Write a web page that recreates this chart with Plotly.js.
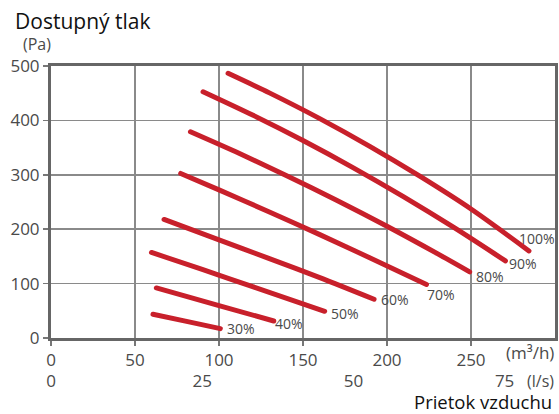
<!DOCTYPE html>
<html>
<head>
<meta charset="utf-8">
<script src="https://cdn.plot.ly/plotly-3.0.1.min.js"></script>
<style>
html,body{margin:0;padding:0;background:#fff;}
#chart{width:559px;height:414px;}
.scatterlayer .js-line{stroke-linecap:round !important;stroke-linejoin:round !important;}
</style>
</head>
<body>
<div id="chart"></div>
<script>
// ---- data ----
const speedLabels = ['30%', '40%', '50%', '60%', '70%', '80%', '90%', '100%'];
const flow30 = [60.7, 80, 100.8];
const p30 = [43.6, 31, 17.3];
const flow40 = [62.7, 100, 132.6];
const p40 = [92, 59.6, 31.3];
const flow50 = [59.8, 90, 120, 162.9];
const p50 = [157.2, 126, 94.5, 49.1];
const flow60 = [67.3, 100, 130, 160, 192.3];
const p60 = [217.9, 180.5, 146, 111, 71.2];
const flow70 = [77.2, 100, 130, 160, 190, 223.5];
const p70 = [302.5, 272.3, 231.7, 190, 147.2, 98.3];
const flow80 = [83, 110, 140, 170, 200, 230, 249.2];
const p80 = [379.1, 342.2, 298.9, 253.3, 205.4, 155, 121.5];
const flow90 = [90.5, 120, 150, 180, 210, 240, 270.5];
const p90 = [452.7, 409.8, 363, 312.8, 259.4, 202.7, 141.7];
const flow100 = [105.4, 130, 160, 190, 220, 250, 284.5];
const p100 = [486.6, 450.6, 403.3, 351.9, 296.5, 237.1, 160.1];

const m3hTicks = [0, 50, 100, 150, 200, 250];
const lsTicks = [0, 25, 50, 75];
const paTicks = [0, 100, 200, 300, 400, 500];

const flows = [flow30, flow40, flow50, flow60, flow70, flow80, flow90, flow100];
const pressures = [p30, p40, p50, p60, p70, p80, p90, p100];

// ---- styles ----
const FONT = '"Open Sans", "Noto Sans", sans-serif';
const RED = '#c8202b';
const GREY = '#4a4a4a';
const labelShift = [[5, 0], [-1, -3], [4, -2], [5, 0], [-1, -10], [4, -5], [2, -3], [-12, 12]];

const traces = flows.map((f, i) => ({
  x: f, y: pressures[i], type: 'scatter', mode: 'lines',
  line: {color: RED, width: 5, shape: 'spline', smoothing: 0.8},
  hoverinfo: 'skip', showlegend: false, xaxis: 'x', yaxis: 'y'
}));
// invisible trace for secondary (l/s) axis
traces.push({x: [lsTicks[0]], y: [paTicks[0]], type: 'scatter', mode: 'markers',
  marker: {opacity: 0}, xaxis: 'x2', yaxis: 'y', showlegend: false, hoverinfo: 'skip'});

const annotations = flows.map((f, i) => ({
  x: f[f.length - 1], y: pressures[i][pressures[i].length - 1],
  xref: 'x', yref: 'y', text: speedLabels[i], showarrow: false,
  xanchor: 'left', yanchor: 'middle',
  xshift: labelShift[i][0], yshift: labelShift[i][1],
  font: {family: FONT, size: 14, color: GREY}
}));
annotations.push(
  {text: '(Pa)', xref: 'paper', yref: 'paper', x: -0.06, y: 1.08, xanchor: 'left', yanchor: 'middle',
   showarrow: false, font: {family: FONT, size: 16, color: GREY}},
  {text: '(m³/h)', xref: 'paper', yref: 'paper', x: 1.002, y: -0.052, xanchor: 'right', yanchor: 'middle',
   showarrow: false, font: {family: FONT, size: 17, color: GREY}},
  {text: '(l/s)', xref: 'paper', yref: 'paper', x: 1.002, y: -0.157, xanchor: 'right', yanchor: 'middle',
   showarrow: false, font: {family: FONT, size: 16, color: GREY}},
  {text: 'Prietok vzduchu', xref: 'paper', yref: 'paper', x: 0.998, y: -0.232, xanchor: 'right', yanchor: 'middle',
   showarrow: false, font: {family: FONT, size: 18.5, color: '#111'}}
);

const layout = {
  width: 559, height: 414,
  margin: {l: 51, r: 4, t: 66, b: 76, pad: 0},
  paper_bgcolor: '#fff', plot_bgcolor: '#fff',
  title: {text: 'Dostupný tlak', xref: 'container', yref: 'container', x: 0.027, y: 0.948,
          xanchor: 'left', yanchor: 'middle', font: {family: FONT, size: 21, color: '#111'}},
  xaxis: {range: [0, 300], tickvals: m3hTicks, ticks: 'outside', ticklen: 5, tickwidth: 1.5, tickcolor: '#777',
          showgrid: true, gridcolor: '#8a8a8a', gridwidth: 1.5, zeroline: false,
          showline: true, linecolor: '#666', linewidth: 3, mirror: true,
          tickfont: {family: FONT, size: 17, color: GREY}, fixedrange: true},
  xaxis2: {range: [0, 300 / 3.6], overlaying: 'x', side: 'bottom', anchor: 'y', tickvals: lsTicks,
           ticks: '', showgrid: false, showline: false, zeroline: false, ticklabelstandoff: 31,
           tickfont: {family: FONT, size: 17, color: GREY}, fixedrange: true},
  yaxis: {range: [0, 500], tickvals: paTicks, ticks: 'outside', ticklen: 5, tickwidth: 1.5, tickcolor: '#777',
          showgrid: true, gridcolor: '#8a8a8a', gridwidth: 1.5, zeroline: false,
          showline: true, linecolor: '#666', linewidth: 3, mirror: true,
          tickfont: {family: FONT, size: 17, color: GREY}, fixedrange: true},
  annotations: annotations
};

Plotly.newPlot('chart', traces, layout, {staticPlot: true, displayModeBar: false});
</script>
</body>
</html>
